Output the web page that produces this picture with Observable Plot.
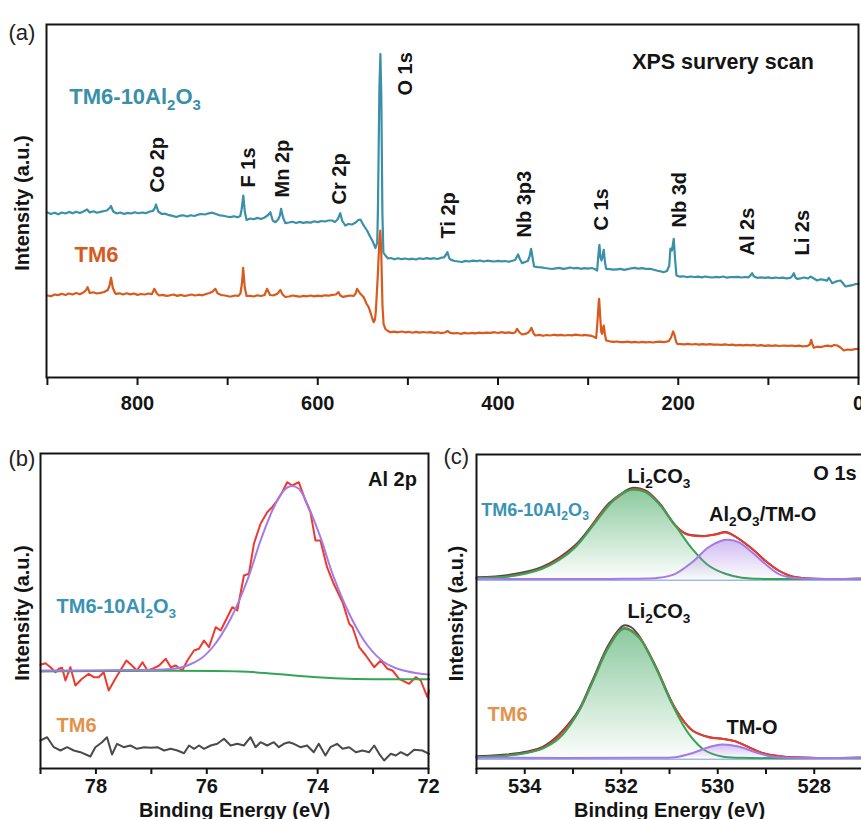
<!DOCTYPE html>
<html><head><meta charset="utf-8">
<script src="https://cdn.jsdelivr.net/npm/d3@7"></script>
<script src="https://cdn.jsdelivr.net/npm/@observablehq/plot@0.6"></script>
<style>
html,body{margin:0;padding:0;background:#fff;overflow:hidden;}
#root{position:relative;width:861px;height:819px;overflow:hidden;background:#fff;}
#root svg{position:absolute;}
</style></head><body><div id="root"></div>
<script>
// ---------- (a) XPS survey scan: [binding energy eV, intensity a.u.] ----------
const surveyTM6Al2O3 = [[900,165],[896,163.5],[892,164.8],[888,163.2],[884,165],[880,164],[876,165.6],[872,164.2],[868,165.8],[864,164.5],[860,166],[856,168],[853,165],[849,166.2],[845,164.8],[841,165.6],[837,166.5],[834,167],[831,169.5],[829.5,171.5],[827,166],[823,164],[819,165],[815,163.5],[811,164.6],[807,164],[803,165.2],[799,164.2],[795,165],[791,164.3],[787,165.8],[783,166.5],[781,169],[779.5,173],[777,166],[773,163.5],[769,163.8],[765,162.3],[761,161.6],[757,160.5],[753,161.8],[749,162.2],[745,161],[741,162.3],[737,161.5],[733,162.8],[729,163.5],[725,163],[721,164.2],[717,164.8],[713,163.5],[709,162.2],[705,161.8],[701,161],[697,160.4],[693,161.2],[689,160.2],[686,161.5],[684.5,168],[682.6,182],[681,166],[679,157.5],[675,159],[671,158.2],[667,159.6],[663,158.5],[659,160],[655,162.5],[652.6,165.3],[650,157],[647,155.3],[644,158],[642,162],[640.7,168.7],[638.5,160],[636,154.3],[632,155],[628,155.8],[624,154.5],[620,155.6],[616,154.6],[612,155.3],[608,154.8],[604,156.2],[600,155.4],[596,156.5],[592,156],[588,157],[584,157],[581,155.5],[578,158],[575,164.3],[573,157],[569.5,152],[566,153.5],[562,153],[558,155],[555,157.5],[552.7,158],[549,152],[545.3,147],[542,141],[539,136],[536,129.5],[534,135],[533.2,170],[531.6,290],[530.5,323.5],[529.5,282],[528.3,165],[527.2,125],[525,122],[522,119],[519,119.5],[515,118.2],[511,119.3],[507,118.3],[503,119],[499,118.2],[495,118.8],[491,118],[487,119.2],[483,118.5],[479,119.4],[475,118.7],[471,119.3],[467,118.5],[463,119.8],[460,120],[458,122.5],[456.2,125.3],[454,119],[452,117.6],[448,116.5],[444,116],[440,115.5],[436,116.6],[432,116],[428,116.9],[424,116.3],[420,117],[416,116],[412,116.8],[408,116.4],[404,116],[400,116.6],[396,116.1],[392,116.5],[388,115.7],[384,116.8],[381,117.5],[379,121],[377.7,123],[376,119],[373.3,114.3],[370,115.5],[367,116.5],[365,121],[363.3,128.7],[361.5,119],[360,111],[356,110.3],[352,110.2],[348,109.5],[344,109],[340,108.5],[336,109.2],[332,109.6],[328,108.6],[324,109.1],[320,110],[316,109.2],[312,109.6],[308,108.7],[304,109.3],[300,108.8],[296,109.5],[292.5,108.5],[290,107],[288.7,122],[287.5,132.7],[286.3,120],[285.2,117],[284,121],[282.7,127.7],[281.3,115],[280,108.7],[276,108.3],[272,107.8],[268,108.2],[264,108.6],[260,107.6],[256,108.4],[252,109.2],[248,109.6],[244,108.8],[240,109.3],[236,108.6],[231,108.7],[227,107.8],[223,106.8],[219,106],[216.4,105.3],[212.5,106.5],[210,112],[208.7,129],[207,127],[205,138.7],[203.5,118],[202,102],[198,100.8],[194,101.2],[190,100.3],[186,101],[182,100.5],[178,100.9],[174,100.1],[170,101],[166,100.4],[162,100],[158,100.7],[154,100.2],[150,101],[146,99.8],[142,100.5],[138.7,100.3],[134,100.6],[130,100],[126,100.5],[122,100.2],[120,102],[118,104.3],[116,101],[112.4,99.7],[108,100.2],[104,99.6],[100,100.1],[96,99.3],[92,100],[88,99.5],[84,99.8],[80,99.2],[75.5,99.7],[73.5,101.5],[71.8,104.3],[70,100],[68,98.7],[64,99.2],[60,100],[56,99],[53.3,101],[50,99.2],[45.8,97],[42,98.2],[38,97.6],[35,96.8],[33,99.7],[31,97],[29.2,94.3],[26,95.6],[23,96.5],[20,97],[17.5,94.5],[14.4,91],[11,91.6],[7,92.3],[3,93.5],[0,93.7]];
const surveyTM6 = [[900,82],[896,81.2],[892,83],[888,82.4],[884,83.7],[880,82.5],[876,84],[872,83],[868,84.5],[864,83.2],[860,85],[857,87.5],[855.4,90.3],[853,84.5],[849,85.2],[845,84],[841,84.6],[837,85.5],[833,87.5],[831,92],[829.4,99.7],[827.5,90],[825,84.5],[824,83.6],[820,84.2],[816,83],[812,84.2],[808,83.1],[804,84],[800,82.6],[796,83.5],[792,83],[788,84],[784,83.4],[781.3,88.7],[778.5,84],[776,82],[772,82.6],[768,81.6],[764,82.2],[760,83],[756,81.6],[752,82.6],[748,81.5],[744,82.2],[740,83],[736,82],[732,82.8],[728,82.2],[724,83.5],[720,84.5],[716.5,86],[713.7,88.7],[711,84],[707,82.5],[703,82],[699,81.2],[696,81],[692,82],[688,81.6],[685.8,84],[684,95],[682.8,109.7],[681,90],[679,81.5],[675,81.6],[671,81],[667,82.2],[663,81.5],[659,82.5],[656.3,88.7],[653,82.5],[649,82.2],[645,83.6],[641.5,87.5],[639,83],[636,80.5],[632,81],[628,82],[624,81.4],[620,80.8],[616,81.6],[612,81.2],[608,82],[604,81.1],[600,81.8],[596,81.4],[592,82.2],[588,81.8],[584,82.6],[580,83],[577,85.3],[575,82],[572,80.6],[568,81.4],[564,82],[560,81.6],[558,84],[556.4,88.7],[553,84],[549,80.3],[546,74],[543.5,70.3],[541.6,65.3],[539.5,59],[538,55.3],[536.5,58],[535.5,67],[533.5,100],[531.6,138],[530.6,147],[529.6,127],[528.2,72],[527,53.7],[525,48.5],[523,47],[519.4,45.3],[515,45.8],[511,45.2],[507,46],[503,45.2],[499,45.7],[495,44.8],[491,45.6],[487,44.9],[483,45.5],[479,45],[475,45.3],[471,44.6],[467,45.2],[463,44.4],[459,45],[456,46.5],[453,44.6],[449,44.2],[445,44.5],[441.7,43.7],[437,44.6],[433,44],[429,44.6],[425,44.1],[421,44.8],[417,44.3],[413,44.9],[408.4,44.7],[404,45.3],[400,44.5],[396,45.4],[392,44.6],[388,45.1],[384,44.4],[381,45],[378.8,48.7],[376,45],[373.3,43],[370,43.6],[367,44.5],[364.5,47],[362.9,49.7],[360.5,44],[358.5,42],[354,42.6],[350,41.7],[346,42.5],[342,42],[338,42.8],[334,42.1],[330,42.6],[326,42],[322,42.5],[318,42.1],[314,42.8],[310,42.3],[306,42],[304.9,42.7],[300,42.2],[296,41.6],[293,40.5],[291.1,39.3],[289.7,55],[288.3,75],[287.8,78.7],[286.7,62],[285.5,46],[284.5,43.7],[283.3,50],[282.7,52],[281.5,44],[280,37],[276,36.2],[272,35.6],[268,36],[264,35.4],[260.5,35.3],[256,35.8],[252,35.2],[248,35.6],[244,35],[240,35.7],[236,35.1],[232,35.5],[228,35],[224,35.6],[220,35.9],[216,35.3],[212,36.1],[210.5,36.3],[208,40],[205.7,46],[204,42],[202.5,36],[201.2,33.7],[197,33.4],[193,33.1],[189,33.6],[185,33],[181,33.5],[177,32.9],[173,33.4],[169,32.8],[165,33.3],[161,32.9],[156.8,33],[152,32.6],[148,33.1],[144,32.5],[140,32.9],[136,32.2],[132,32.7],[128,32.1],[124,32.6],[120,32.2],[116,32.6],[112,31.8],[108,32.3],[104,31.7],[100,32.2],[96,31.6],[92,32.1],[88,31.5],[82.9,32],[78,31.6],[74,32],[70,31.4],[66,31.9],[62,31.2],[58,31.5],[56.9,31.3],[54,33],[52.5,37.7],[51,33],[49.6,29.7],[46,30.8],[42,30.4],[38,31.3],[34,31.8],[30,31.2],[27,32.5],[23.6,32],[20,30],[16.3,27],[12,28],[8,27.6],[4,28.4],[0,28.7]];
const surveyPeakNames  = ["Co 2p","F 1s","Mn 2p","Cr 2p","O 1s","Ti 2p","Nb 3p3","C 1s","Nb 3d","Al 2s","Li 2s"];
const surveyPeakEnergy = [778, 677, 639, 576, 502, 455, 371, 285, 199, 123, 62];
const surveyPeakLabelY = [185, 190, 180, 173, 282, 139, 140, 147, 150, 122, 122];
const surveyMajorTicks = [800, 600, 400, 200, 0];
const surveyMinorTicks = [900, 700, 500, 300, 100];

// ---------- (b) Al 2p ----------
const al2pRaw = [[79.00,103.7],[78.91,105.3],[78.82,101.3],[78.73,96.3],[78.67,99.7],[78.61,100.7],[78.55,88],[78.46,101.3],[78.37,83],[78.25,89.7],[78.13,94.7],[78.04,91.3],[77.95,91.3],[77.86,96.3],[77.77,78],[77.65,89.7],[77.56,98],[77.45,108],[77.35,103],[77.26,98],[77.16,106.3],[77.07,98],[76.98,99.7],[76.86,103],[76.74,109.7],[76.65,101.3],[76.56,103],[76.44,98],[76.35,108],[76.23,118],[76.14,119.7],[76.05,128],[75.96,121.3],[75.84,141.3],[75.75,138],[75.63,151.3],[75.54,161.3],[75.45,158],[75.33,193],[75.24,194.7],[75.15,224.7],[75.03,244.7],[74.91,256.3],[74.82,261.3],[74.73,268],[74.64,276.3],[74.55,286.3],[74.46,283],[74.34,286.3],[74.22,268],[74.13,256.3],[74.04,228],[73.95,228],[73.83,201.3],[73.71,184.7],[73.55,166.3],[73.43,144.7],[73.37,141.3],[73.25,121.3],[73.13,113],[72.98,101.3],[72.86,108],[72.74,99.7],[72.65,98],[72.53,89.7],[72.35,84.7],[72.23,91.3],[72.14,88],[72.02,71.3],[71.99,78]];
const al2pFit = [[79.00,98],[77.80,98.3],[76.59,99.7],[76.35,103],[76.11,109.7],[75.87,123],[75.57,149.7],[75.27,188],[75.03,228],[74.79,261.3],[74.61,278],[74.49,282.3],[74.34,279.7],[74.19,264.7],[73.95,231.3],[73.71,191.3],[73.40,151.3],[73.10,123],[72.80,106.3],[72.50,98.7],[72.20,95.3],[71.99,94]];
const al2pBackground = [[79.0,97],[75.39,97],[74.79,94.7],[74.19,92],[73.58,90],[72.98,89.3],[71.99,89.3]];
const al2pTM6 = [[79.00,28],[78.88,31.3],[78.76,21.3],[78.64,18],[78.52,21.3],[78.40,18],[78.28,16.3],[78.10,12],[78.01,21.3],[77.89,26.3],[77.80,31.3],[77.71,14],[77.62,24.7],[77.50,21.3],[77.38,23],[77.26,19.7],[77.13,21.3],[77.01,20.7],[76.89,21.3],[76.77,18],[76.65,19.7],[76.53,18],[76.41,15.3],[76.32,23],[76.23,19.7],[76.14,23],[76.05,19.7],[75.93,23],[75.81,24.7],[75.69,29.7],[75.57,23],[75.45,24.7],[75.33,23],[75.21,31.3],[75.12,21.3],[75.03,26.3],[74.91,23],[74.79,26.3],[74.70,21.3],[74.61,24.7],[74.52,26.3],[74.43,24.7],[74.31,21.3],[74.19,23],[74.07,16.3],[73.98,24.7],[73.86,13],[73.77,21.3],[73.65,24.7],[73.55,19.7],[73.43,21.3],[73.31,16.3],[73.19,18],[73.07,16.3],[72.98,23],[72.89,14.7],[72.80,8],[72.68,14.7],[72.59,13],[72.50,16.3],[72.38,13],[72.26,18.7],[72.11,18],[71.99,14.7]];
const al2pMajorTicks = [78, 76, 74, 72];
const al2pMinorTicks = [79, 77, 75, 73];

// ---------- (c) O 1s ----------
const o1sBaselines = [189.7, 10.7];
const o1sBackground = [188.2, 9.3];
const o1sUpperEnvelope = [[535,190.3],[534.33,192.3],[533.64,200.3],[532.95,222],[532.26,263.7],[531.78,279.3],[531.5,277],[531.22,265.3],[530.88,243],[530.67,234.7],[530.33,232.3],[530.05,234],[529.84,236],[529.64,232],[529.29,219.7],[529.02,208],[528.74,198],[528.46,192],[528.12,190],[527.03,189.7]];
const o1sUpperRaw = [[535,191.2],[534.33,193.5],[533.64,201.6],[532.95,223.6],[532.26,265],[531.95,276.5],[531.78,280.6],[531.5,278.2],[531.22,266],[530.88,243.4],[530.67,235],[530.33,232.6],[530.05,234.2],[529.84,236.4],[529.64,232.2],[529.29,219.8],[529.02,208],[528.74,198],[528.46,192],[528.12,190],[527.03,189.7]];
const o1sUpperLi2CO3 = [[535,190.3],[534.33,192],[533.99,194.7],[533.64,199.7],[533.30,208],[532.95,221.3],[532.61,241.3],[532.26,263],[532.05,273],[531.78,278.7],[531.50,276.3],[531.22,264.7],[530.88,243],[530.53,219.7],[530.19,203],[529.84,194.7],[529.50,190.7],[529.15,189.7],[527.03,189.7]];
const o1sUpperAl2O3 = [[535,189.7],[531.92,189.7],[531.22,190.7],[530.88,194.7],[530.53,206.3],[530.19,221.3],[529.91,228],[529.78,228.7],[529.57,226.3],[529.29,216.3],[529.02,204.7],[528.74,194.7],[528.46,190.7],[528.12,189.7],[527.03,189.7]];
const o1sLowerEnvelope = [[535,11.3],[533.64,20.3],[532.95,52],[532.61,85],[532.26,122],[531.95,140.3],[531.64,132],[531.29,102],[530.88,59.7],[530.53,38],[530.19,31.3],[529.91,29.7],[529.64,27.3],[529.29,19.7],[529.02,14.7],[528.67,12],[528.12,10.7],[527.03,10.7]];
const o1sLowerRaw = [[535,12.2],[533.64,21.4],[532.95,53.4],[532.61,86.8],[532.26,124],[531.95,143],[531.8,141.5],[531.64,133.2],[531.29,102.6],[530.88,60],[530.53,38.2],[530.19,31.5],[529.91,29.8],[529.64,27.4],[529.29,19.8],[529.02,14.7],[528.67,12],[528.12,10.7],[527.03,10.7]];
const o1sLowerLi2CO3 = [[535,11.3],[534.33,13],[533.99,15.3],[533.64,19.7],[533.30,29.7],[532.95,51.3],[532.61,84.7],[532.26,121.3],[531.95,139.7],[531.64,131.3],[531.29,101.3],[530.95,64.7],[530.60,34.7],[530.26,18],[529.91,12],[529.50,10.7],[527.03,10.7]];
const o1sLowerTMO = [[535,10.7],[531.57,10.7],[530.88,11.3],[530.53,15.3],[530.19,21.3],[529.91,24],[529.57,22],[529.22,16.3],[528.88,12],[528.46,10.7],[527.03,10.7]];
const o1sMajorTicks = [534, 532, 530, 528];
const o1sMinorTicks = [535, 533, 531, 529, 527];

// ---------- styling ----------
const FONT = "'Liberation Sans', Arial, Helvetica, sans-serif";
const TEAL = "#3a8fa9", ORANGE = "#d85a1d", RED = "#ee3a2e", PURPLE = "#a57ae6",
      GREEN = "#35a456", DARK = "#4a4a4a", LABEL_TEAL = "#3a93b3", LABEL_ORANGE = "#e3924a", INK = "#141414";
const baseStyle = {fontFamily: FONT, background: "transparent", overflow: "visible", color: INK};
const E = d => d[0], I = d => d[1];
const root = document.getElementById("root");

function subscripts(svg) {
  svg.querySelectorAll("text").forEach(t => {
    const s = t.textContent;
    if (!s.includes("_")) return;
    const fs = parseFloat(getComputedStyle(t).fontSize) || 20;
    const parts = s.split(/_(\d)/);
    t.textContent = "";
    let down = false;
    parts.forEach((p, i) => {
      if (!p) return;
      const ts = document.createElementNS("http://www.w3.org/2000/svg", "tspan");
      ts.textContent = p;
      if (i % 2 === 1) { ts.setAttribute("font-size", (fs * 0.68).toFixed(1)); ts.setAttribute("dy", (fs * 0.27).toFixed(1)); down = true; }
      else if (down) { ts.setAttribute("dy", (-fs * 0.27).toFixed(1)); down = false; }
      t.appendChild(ts);
    });
  });
}
function place(svg, left, top) {
  svg.style.left = left + "px"; svg.style.top = top + "px";
  root.appendChild(svg); subscripts(svg);
}
function gradients() {
  const defs = d3.create("svg:defs");
  const add = (id, color, a0, a1) => {
    const g = defs.append("linearGradient").attr("id", id).attr("x1", 0).attr("y1", 0).attr("x2", 0).attr("y2", 1);
    g.append("stop").attr("offset", "0%").attr("stop-color", color).attr("stop-opacity", a0);
    g.append("stop").attr("offset", "100%").attr("stop-color", color).attr("stop-opacity", a1);
  };
  add("gradGreen", "#44a862", 0.62, 0.02);
  add("gradPurple", "#a277e2", 0.5, 0.03);
  return defs.node();
}
const frame = () => Plot.frame({stroke: INK, strokeWidth: 2});
const minorAxis = (ticks, size) => Plot.axisX({ticks, tickSize: size, tickFormat: () => "", stroke: INK, strokeWidth: 2, label: null});
const majorAxis = (ticks, size, pad) => Plot.axisX({ticks, tickSize: size, tickPadding: pad, tickFormat: d => String(d), fontSize: 20, fontWeight: "bold", fill: INK, stroke: INK, strokeWidth: 2, label: null});
const txt = (s, o) => Plot.text([s], {text: d => d, fill: INK, fontWeight: "bold", fontSize: 20, ...o});
const yTitle = (dx) => txt("Intensity (a.u.)", {frameAnchor: "left", textAnchor: "middle", lineAnchor: "middle", rotate: -90, dx, dy: 2});
const xTitle = () => txt("Binding Energy (eV)", {frameAnchor: "bottom", textAnchor: "middle", lineAnchor: "bottom", dy: 48});
const panelTag = (s, dx, dy) => txt(s, {frameAnchor: "top-left", textAnchor: "start", fontWeight: "normal", fontSize: 22, fill: "#222", dx, dy});

// ---------- panel (a) ----------
const peaks = surveyPeakNames.map((name, i) => ({name, E: surveyPeakEnergy[i], I: surveyPeakLabelY[i]}));
const figA = Plot.plot({
  width: 861, height: 420, marginLeft: 46, marginRight: 3, marginTop: 24, marginBottom: 43,
  x: {domain: [901, 0], label: null}, y: {domain: [0, 353], label: null, axis: null},
  style: baseStyle,
  marks: [
    Plot.line(surveyTM6Al2O3, {x: E, y: I, stroke: TEAL, strokeWidth: 2.2, strokeLinejoin: "round"}),
    Plot.line(surveyTM6, {x: E, y: I, stroke: ORANGE, strokeWidth: 2.2, strokeLinejoin: "round"}),
    frame(),
    minorAxis(surveyMinorTicks, 8),
    majorAxis(surveyMajorTicks, 8, 10),
    Plot.text(peaks, {x: "E", y: "I", text: "name", rotate: -90, textAnchor: "start", lineAnchor: "middle", fontSize: 20, fontWeight: "bold", fill: INK}),
    txt("TM6-10Al_2O_3", {x: [875.7], y: [273.7], textAnchor: "start", lineAnchor: "bottom", fontSize: 22, fill: TEAL}),
    txt("TM6", {x: [870], y: [116], textAnchor: "start", lineAnchor: "bottom", fontSize: 22, fill: ORANGE}),
    txt("XPS survery scan", {x: [150.4], y: [308.5], textAnchor: "middle", lineAnchor: "bottom", fontSize: 21.5}),
    yTitle(-24),
    panelTag("(a)", -38, 0)
  ]
});
place(figA, 0, 0);

// ---------- panel (b) ----------
const figB = Plot.plot({
  width: 440, height: 389, marginLeft: 40, marginRight: 12, marginTop: 23, marginBottom: 51,
  x: {domain: [79, 72], label: null}, y: {domain: [0, 315], label: null, axis: null},
  style: baseStyle,
  marks: [
    Plot.line(al2pTM6, {x: E, y: I, stroke: DARK, strokeWidth: 2}),
    Plot.line(al2pRaw, {x: E, y: I, stroke: RED, strokeWidth: 2}),
    Plot.line(al2pBackground, {x: E, y: I, stroke: GREEN, strokeWidth: 2, curve: "catmull-rom"}),
    Plot.line(al2pFit, {x: E, y: I, stroke: PURPLE, strokeWidth: 2, curve: "catmull-rom"}),
    frame(),
    minorAxis(al2pMinorTicks, 6),
    majorAxis(al2pMajorTicks, 6, 4),
    txt("Al 2p", {x: [72.21], y: [283], textAnchor: "end", lineAnchor: "bottom"}),
    txt("TM6-10Al_2O_3", {x: [78.71], y: [156], textAnchor: "start", lineAnchor: "bottom", fill: LABEL_TEAL}),
    txt("TM6", {x: [78.71], y: [37], textAnchor: "start", lineAnchor: "bottom", fill: LABEL_ORANGE}),
    xTitle(),
    yTitle(-18),
    panelTag("(b)", -32, -3)
  ]
});
place(figB, 0, 430);

// ---------- panel (c) ----------
const area = (data, base, fill) => Plot.areaY(data, {x: E, y1: () => base, y2: I, fill, curve: "catmull-rom"});
const figC = Plot.plot({
  width: 430, height: 389, marginLeft: 36, marginRight: 8, marginTop: 24, marginBottom: 51,
  x: {domain: [535, 527], label: null}, y: {domain: [0, 314], label: null, axis: null},
  style: baseStyle,
  marks: [
    gradients,
    Plot.ruleY(o1sBackground, {stroke: "#9cb8ea", strokeWidth: 1.5}),
    area(o1sUpperLi2CO3, o1sBaselines[0], "url(#gradGreen)"),
    area(o1sLowerLi2CO3, o1sBaselines[1], "url(#gradGreen)"),
    Plot.line(o1sUpperRaw, {x: E, y: I, stroke: DARK, strokeWidth: 2, curve: "catmull-rom"}),
    Plot.line(o1sLowerRaw, {x: E, y: I, stroke: DARK, strokeWidth: 2, curve: "catmull-rom"}),
    Plot.line(o1sUpperEnvelope, {x: E, y: I, stroke: RED, strokeWidth: 2, curve: "catmull-rom"}),
    Plot.line(o1sLowerEnvelope, {x: E, y: I, stroke: RED, strokeWidth: 2, curve: "catmull-rom"}),
    Plot.line(o1sUpperLi2CO3, {x: E, y: I, stroke: GREEN, strokeWidth: 2, curve: "catmull-rom"}),
    Plot.line(o1sLowerLi2CO3, {x: E, y: I, stroke: GREEN, strokeWidth: 2, curve: "catmull-rom"}),
    area(o1sUpperAl2O3, o1sBaselines[0], "url(#gradPurple)"),
    area(o1sLowerTMO, o1sBaselines[1], "url(#gradPurple)"),
    Plot.line(o1sUpperAl2O3, {x: E, y: I, stroke: PURPLE, strokeWidth: 2, curve: "catmull-rom"}),
    Plot.line(o1sLowerTMO, {x: E, y: I, stroke: PURPLE, strokeWidth: 2, curve: "catmull-rom"}),
    frame(),
    minorAxis(o1sMinorTicks, 6),
    majorAxis(o1sMajorTicks, 6, 4),
    txt("O 1s", {x: [528.02], y: [289], textAnchor: "start", lineAnchor: "bottom"}),
    txt("Li_2CO_3", {x: [531.22], y: [286], textAnchor: "middle", lineAnchor: "bottom"}),
    txt("Al_2O_3/TM-O", {x: [529.07], y: [248], textAnchor: "middle", lineAnchor: "bottom"}),
    txt("TM6-10Al_2O_3", {x: [534.9], y: [253], textAnchor: "start", lineAnchor: "bottom", fontSize: 18, fill: LABEL_TEAL}),
    txt("Li_2CO_3", {x: [531.22], y: [151], textAnchor: "middle", lineAnchor: "bottom"}),
    txt("TM6", {x: [534.77], y: [48], textAnchor: "start", lineAnchor: "bottom", fill: LABEL_ORANGE}),
    txt("TM-O", {x: [529.29], y: [35], textAnchor: "middle", lineAnchor: "bottom"}),
    xTitle(),
    yTitle(-20),
    panelTag("(c)", -33, -6)
  ]
});
place(figC, 440, 430);
</script>
</body></html>
